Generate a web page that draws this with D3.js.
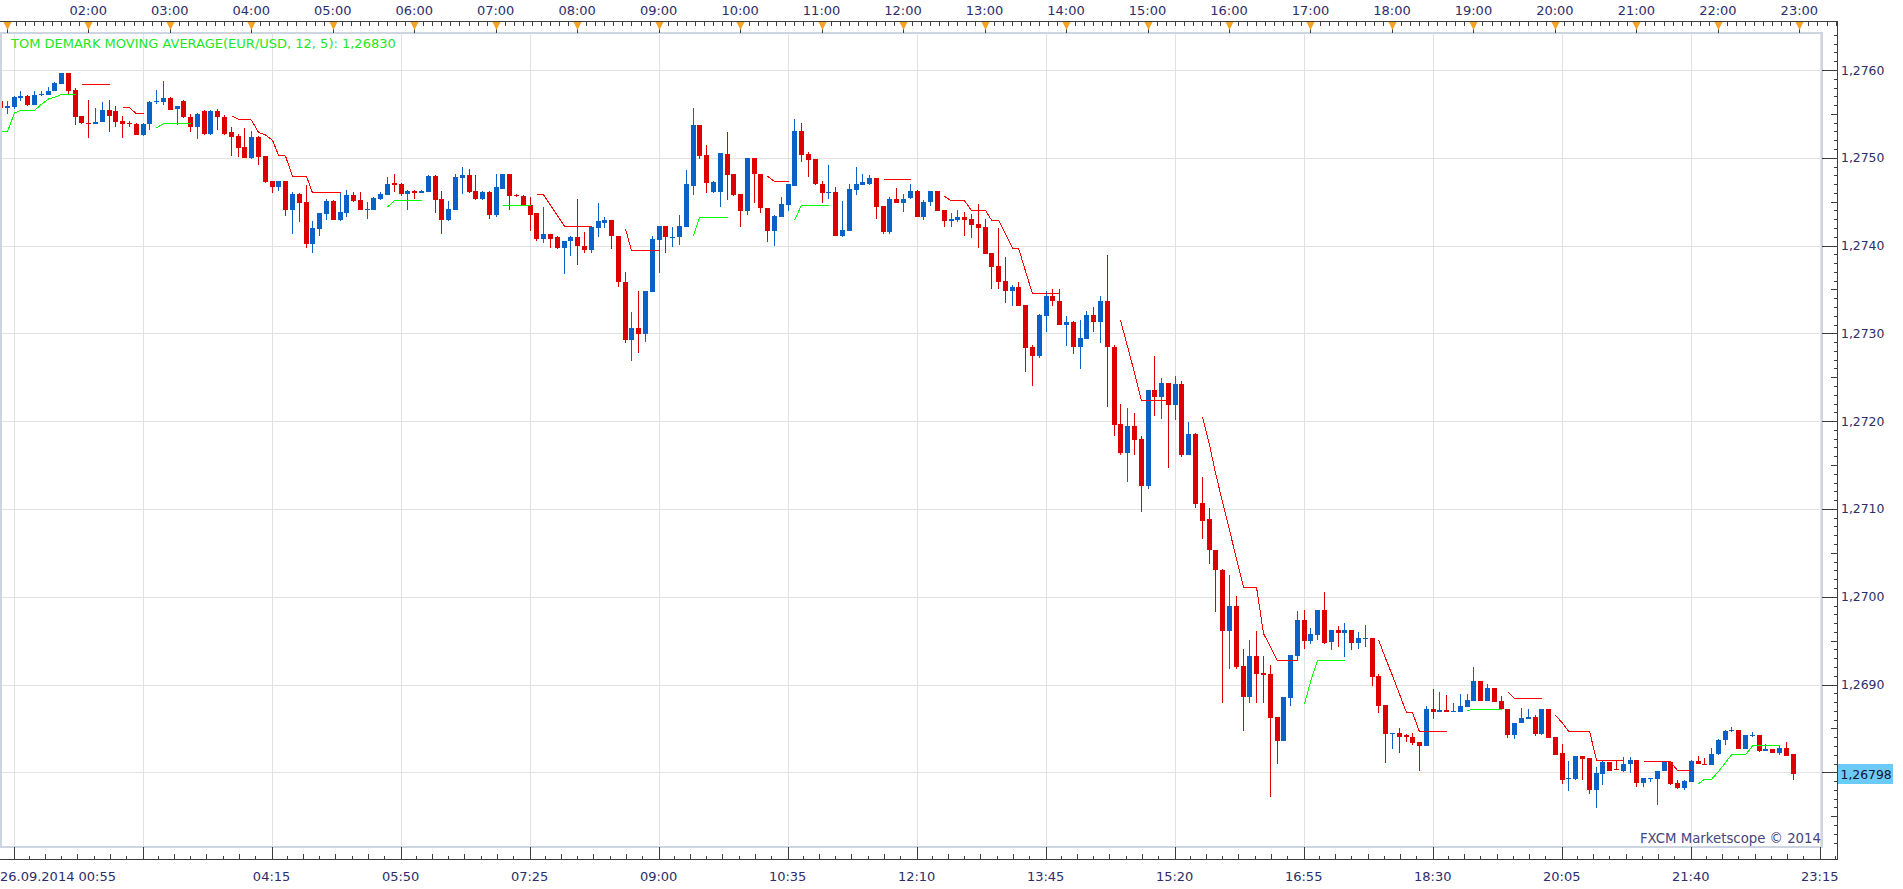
<!DOCTYPE html>
<html lang="en">
<head>
<meta charset="utf-8">
<script src="https://cdn.jsdelivr.net/npm/d3@7"></script>
<style>
html, body { margin: 0; padding: 0; background: #fff; overflow: hidden; }
svg { display: block; font-family: "DejaVu Sans", Verdana, sans-serif; }
</style>
</head>
<body>
<svg id="chart" width="1903" height="889"></svg>
<script>
// EUR/USD 5 minute candles, 26.09.2014, first candle 00:55
var startTime = new Date(2014, 8, 26, 0, 55);
var stepMinutes = 5;

var opens = [
1.27565,1.27557,1.27558,1.27568,1.27570,1.27560,1.27571,1.27572,1.27576,1.27584,
1.27597,1.27577,1.27548,1.27540,1.27538,1.27541,1.27554,1.27553,1.27542,1.27540,
1.27538,1.27526,1.27538,1.27563,1.27563,1.27568,1.27556,1.27565,1.27547,1.27535,
1.27553,1.27527,1.27553,1.27547,1.27529,1.27525,1.27512,1.27500,1.27524,1.27502,
1.27473,1.27467,1.27473,1.27440,1.27459,1.27450,1.27402,1.27419,1.27436,1.27451,
1.27429,1.27437,1.27458,1.27452,1.27440,1.27440,1.27453,1.27458,1.27471,1.27470,
1.27459,1.27462,1.27460,1.27461,1.27479,1.27453,1.27429,1.27440,1.27477,1.27480,
1.27462,1.27453,1.27461,1.27435,1.27465,1.27481,1.27458,1.27457,1.27446,1.27437,
1.27408,1.27413,1.27410,1.27397,1.27405,1.27410,1.27400,1.27395,1.27420,1.27426,
1.27429,1.27411,1.27359,1.27293,1.27306,1.27299,1.27347,1.27406,1.27422,1.27409,
1.27410,1.27421,1.27468,1.27537,1.27503,1.27461,1.27461,1.27504,1.27481,1.27459,
1.27439,1.27500,1.27482,1.27443,1.27417,1.27433,1.27446,1.27468,1.27531,1.27504,
1.27499,1.27470,1.27460,1.27461,1.27411,1.27417,1.27463,1.27469,1.27470,1.27477,
1.27445,1.27416,1.27453,1.27449,1.27454,1.27462,1.27433,1.27450,1.27462,1.27440,
1.27428,1.27429,1.27432,1.27430,1.27425,1.27421,1.27391,1.27377,1.27360,1.27348,
1.27353,1.27332,1.27284,1.27274,1.27320,1.27342,1.27337,1.27309,1.27313,1.27285,
1.27294,1.27321,1.27313,1.27337,1.27285,1.27197,1.27164,1.27195,1.27180,1.27126,
1.27235,1.27228,1.27243,1.27218,1.27242,1.27162,1.27185,1.27107,1.27088,1.27053,
1.27031,1.26961,1.26989,1.26921,1.26886,1.26932,1.26913,1.26912,1.26863,1.26836,
1.26885,1.26933,1.26973,1.26949,1.26956,1.26985,1.26948,1.26962,1.26959,1.26962,
1.26947,1.26952,1.26953,1.26910,1.26877,1.26844,1.26845,1.26842,1.26840,1.26834,
1.26830,1.26872,1.26869,1.26871,1.26869,1.26869,1.26874,1.26881,1.26904,1.26881,
1.26896,1.26881,1.26872,1.26842,1.26856,1.26861,1.26863,1.26844,1.26872,1.26840,
1.26822,1.26792,1.26792,1.26819,1.26816,1.26780,1.26798,1.26812,1.26804,1.26802,
1.26810,1.26814,1.26788,1.26792,1.26792,1.26802,1.26812,1.26788,1.26782,1.26789,
1.26813,1.26810,1.26808,1.26821,1.26837,1.26847,1.26848,1.26826,1.26842,1.26842,
1.26824,1.26827,1.26822,1.26828,1.26821
];
var highs = [
1.27567,1.27565,1.27570,1.27576,1.27571,1.27576,1.27576,1.27581,1.27586,1.27597,
1.27597,1.27579,1.27548,1.27566,1.27557,1.27563,1.27566,1.27559,1.27548,1.27542,
1.27540,1.27540,1.27565,1.27577,1.27587,1.27569,1.27559,1.27566,1.27550,1.27551,
1.27555,1.27555,1.27556,1.27549,1.27535,1.27527,1.27534,1.27530,1.27525,1.27502,
1.27474,1.27474,1.27474,1.27461,1.27460,1.27469,1.27428,1.27437,1.27453,1.27452,
1.27461,1.27463,1.27461,1.27461,1.27450,1.27455,1.27461,1.27478,1.27481,1.27471,
1.27463,1.27463,1.27463,1.27480,1.27480,1.27462,1.27451,1.27481,1.27490,1.27487,
1.27480,1.27462,1.27462,1.27482,1.27481,1.27481,1.27459,1.27458,1.27455,1.27437,
1.27444,1.27413,1.27411,1.27405,1.27411,1.27453,1.27415,1.27421,1.27448,1.27433,
1.27429,1.27411,1.27370,1.27324,1.27348,1.27348,1.27411,1.27422,1.27422,1.27421,
1.27435,1.27486,1.27557,1.27537,1.27515,1.27473,1.27506,1.27529,1.27481,1.27459,
1.27500,1.27500,1.27482,1.27443,1.27435,1.27455,1.27470,1.27544,1.27540,1.27507,
1.27499,1.27473,1.27492,1.27467,1.27451,1.27470,1.27489,1.27481,1.27480,1.27477,
1.27445,1.27455,1.27466,1.27459,1.27470,1.27463,1.27452,1.27462,1.27462,1.27440,
1.27437,1.27440,1.27438,1.27436,1.27447,1.27430,1.27391,1.27420,1.27387,1.27355,
1.27359,1.27332,1.27287,1.27322,1.27348,1.27350,1.27350,1.27320,1.27314,1.27315,
1.27326,1.27330,1.27342,1.27389,1.27287,1.27220,1.27215,1.27209,1.27183,1.27235,
1.27274,1.27249,1.27243,1.27252,1.27246,1.27199,1.27186,1.27136,1.27101,1.27053,
1.27032,1.27025,1.27001,1.26941,1.26951,1.26961,1.26932,1.26922,1.26863,1.26886,
1.26934,1.26984,1.26985,1.26964,1.26985,1.27005,1.26962,1.26967,1.26970,1.26962,
1.26960,1.26968,1.26953,1.26912,1.26877,1.26845,1.26850,1.26844,1.26845,1.26835,
1.26875,1.26895,1.26892,1.26888,1.26879,1.26889,1.26889,1.26920,1.26904,1.26901,
1.26896,1.26887,1.26872,1.26856,1.26873,1.26872,1.26865,1.26872,1.26872,1.26840,
1.26832,1.26813,1.26819,1.26819,1.26816,1.26806,1.26813,1.26812,1.26814,1.26817,
1.26817,1.26814,1.26793,1.26793,1.26802,1.26813,1.26812,1.26791,1.26791,1.26814,
1.26819,1.26816,1.26828,1.26838,1.26848,1.26852,1.26848,1.26842,1.26846,1.26842,
1.26832,1.26827,1.26830,1.26835,1.26821
];
var lows = [
1.27555,1.27550,1.27556,1.27565,1.27559,1.27560,1.27570,1.27572,1.27576,1.27584,
1.27573,1.27537,1.27539,1.27523,1.27538,1.27541,1.27529,1.27535,1.27523,1.27535,
1.27526,1.27525,1.27532,1.27561,1.27560,1.27555,1.27537,1.27545,1.27529,1.27521,
1.27526,1.27526,1.27532,1.27526,1.27502,1.27501,1.27500,1.27499,1.27492,1.27471,
1.27460,1.27462,1.27434,1.27413,1.27427,1.27397,1.27391,1.27411,1.27429,1.27429,
1.27428,1.27433,1.27450,1.27440,1.27430,1.27440,1.27452,1.27458,1.27461,1.27456,
1.27441,1.27453,1.27460,1.27461,1.27437,1.27413,1.27428,1.27440,1.27459,1.27460,
1.27452,1.27452,1.27430,1.27433,1.27465,1.27440,1.27455,1.27445,1.27417,1.27405,
1.27403,1.27397,1.27396,1.27368,1.27388,1.27378,1.27391,1.27391,1.27410,1.27420,
1.27396,1.27353,1.27289,1.27268,1.27278,1.27290,1.27347,1.27369,1.27392,1.27398,
1.27401,1.27421,1.27458,1.27499,1.27460,1.27460,1.27444,1.27452,1.27457,1.27421,
1.27435,1.27448,1.27437,1.27404,1.27400,1.27432,1.27439,1.27468,1.27495,1.27478,
1.27469,1.27448,1.27453,1.27411,1.27410,1.27417,1.27458,1.27469,1.27469,1.27430,
1.27413,1.27413,1.27448,1.27438,1.27453,1.27433,1.27429,1.27445,1.27439,1.27421,
1.27421,1.27427,1.27411,1.27409,1.27397,1.27390,1.27350,1.27350,1.27335,1.27331,
1.27331,1.27256,1.27240,1.27272,1.27301,1.27331,1.27309,1.27286,1.27276,1.27259,
1.27294,1.27302,1.27289,1.27216,1.27183,1.27161,1.27131,1.27162,1.27096,1.27123,
1.27206,1.27202,1.27147,1.27201,1.27159,1.27162,1.27101,1.27066,1.27037,1.26983,
1.26879,1.26918,1.26918,1.26847,1.26879,1.26879,1.26879,1.26772,1.26810,1.26836,
1.26875,1.26928,1.26941,1.26946,1.26951,1.26946,1.26939,1.26943,1.26931,1.26939,
1.26941,1.26943,1.26898,1.26868,1.26811,1.26826,1.26822,1.26835,1.26831,1.26801,
1.26830,1.26861,1.26869,1.26869,1.26869,1.26869,1.26874,1.26881,1.26881,1.26881,
1.26880,1.26872,1.26839,1.26838,1.26856,1.26861,1.26841,1.26842,1.26839,1.26820,
1.26787,1.26779,1.26791,1.26791,1.26775,1.26759,1.26786,1.26802,1.26803,1.26800,
1.26799,1.26783,1.26783,1.26789,1.26763,1.26802,1.26786,1.26781,1.26780,1.26789,
1.26809,1.26808,1.26808,1.26820,1.26831,1.26846,1.26826,1.26826,1.26840,1.26823,
1.26824,1.26822,1.26820,1.26818,1.26791
];
var closes = [
1.27557,1.27559,1.27569,1.27570,1.27560,1.27572,1.27573,1.27576,1.27585,1.27597,
1.27576,1.27547,1.27540,1.27538,1.27541,1.27554,1.27548,1.27541,1.27538,1.27538,
1.27526,1.27539,1.27563,1.27565,1.27568,1.27555,1.27559,1.27546,1.27535,1.27550,
1.27527,1.27553,1.27547,1.27527,1.27524,1.27511,1.27500,1.27524,1.27501,1.27472,
1.27467,1.27473,1.27440,1.27459,1.27449,1.27402,1.27420,1.27437,1.27451,1.27429,
1.27438,1.27458,1.27451,1.27440,1.27442,1.27454,1.27459,1.27470,1.27469,1.27459,
1.27462,1.27460,1.27462,1.27479,1.27452,1.27429,1.27442,1.27478,1.27480,1.27461,
1.27453,1.27461,1.27435,1.27467,1.27481,1.27457,1.27456,1.27446,1.27435,1.27408,
1.27413,1.27408,1.27397,1.27405,1.27410,1.27399,1.27395,1.27421,1.27428,1.27429,
1.27411,1.27358,1.27293,1.27306,1.27299,1.27348,1.27407,1.27422,1.27410,1.27410,
1.27422,1.27470,1.27537,1.27502,1.27471,1.27472,1.27505,1.27480,1.27458,1.27439,
1.27500,1.27482,1.27443,1.27417,1.27434,1.27447,1.27470,1.27531,1.27503,1.27498,
1.27470,1.27460,1.27461,1.27411,1.27418,1.27464,1.27470,1.27472,1.27477,1.27444,
1.27416,1.27453,1.27449,1.27453,1.27462,1.27433,1.27450,1.27462,1.27439,1.27428,
1.27430,1.27432,1.27429,1.27424,1.27420,1.27390,1.27376,1.27359,1.27348,1.27353,
1.27331,1.27283,1.27274,1.27321,1.27342,1.27337,1.27309,1.27313,1.27285,1.27295,
1.27321,1.27313,1.27337,1.27284,1.27196,1.27164,1.27195,1.27179,1.27126,1.27235,
1.27228,1.27243,1.27218,1.27242,1.27162,1.27185,1.27106,1.27086,1.27053,1.27030,
1.26961,1.26989,1.26920,1.26886,1.26932,1.26912,1.26911,1.26862,1.26836,1.26886,
1.26934,1.26973,1.26949,1.26958,1.26985,1.26947,1.26962,1.26959,1.26962,1.26947,
1.26953,1.26953,1.26909,1.26876,1.26844,1.26845,1.26840,1.26840,1.26833,1.26830,
1.26872,1.26869,1.26871,1.26869,1.26870,1.26875,1.26882,1.26904,1.26881,1.26896,
1.26880,1.26872,1.26842,1.26856,1.26862,1.26863,1.26844,1.26872,1.26839,1.26820,
1.26791,1.26794,1.26819,1.26815,1.26780,1.26799,1.26812,1.26802,1.26803,1.26810,
1.26814,1.26788,1.26793,1.26793,1.26802,1.26812,1.26787,1.26782,1.26790,1.26813,
1.26810,1.26808,1.26821,1.26837,1.26847,1.26848,1.26826,1.26842,1.26843,1.26824,
1.26826,1.26822,1.26828,1.26819,1.26798
];

// Tom Demark moving average: pieces with first candle index, direction, values
var tdSegments = [
  { start: 0,   dir: "up",   values: [1.27530,1.27530,1.27551,1.27554,1.27554,1.27554,1.27561,1.27567,1.27569,1.27572,1.27572,1.27572] },
  { start: 12,  dir: "down", values: [1.27583,1.27583,1.27583,1.27583,1.27583] },
  { start: 18,  dir: "down", values: [1.27557,1.27557,1.27550,1.27550] },
  { start: 23,  dir: "up",   values: [1.27534,1.27539,1.27539,1.27539,1.27539,1.27539] },
  { start: 34,  dir: "down", values: [1.27548,1.27544,1.27544,1.27543,1.27529,1.27526,1.27520,1.27503,1.27502,1.27479,1.27479,1.27479,1.27460,1.27460,1.27460,1.27460,1.27460] },
  { start: 57,  dir: "up",   values: [1.27444,1.27451,1.27451,1.27451,1.27451,1.27451] },
  { start: 74,  dir: "up",   values: [1.27446,1.27446,1.27446,1.27446,1.27446] },
  { start: 79,  dir: "down", values: [1.27458,1.27458,1.27446,1.27434,1.27422,1.27422,1.27422,1.27422,1.27422] },
  { start: 92,  dir: "down", values: [1.27419,1.27394,1.27394,1.27394,1.27394,1.27394] },
  { start: 102, dir: "up",   values: [1.27411,1.27432,1.27432,1.27432,1.27432,1.27432] },
  { start: 113, dir: "down", values: [1.27479,1.27473,1.27473,1.27473] },
  { start: 117, dir: "up",   values: [1.27429,1.27446,1.27446,1.27446,1.27446,1.27446] },
  { start: 130, dir: "down", values: [1.27475,1.27475,1.27475,1.27475,1.27475] },
  { start: 139, dir: "down", values: [1.27456,1.27451,1.27451,1.27451,1.27440,1.27440,1.27440,1.27429,1.27429,1.27413,1.27397,1.27397,1.27371,1.27345,1.27345,1.27345,1.27345,1.27345] },
  { start: 165, dir: "down", values: [1.27315,1.27285,1.27255,1.27223,1.27223,1.27223,1.27223,1.27223] },
  { start: 177, dir: "down", values: [1.27205,1.27173,1.27141,1.27108,1.27076,1.27043,1.27011,1.27011,1.27011,1.26958,1.26943,1.26927,1.26927,1.26927,1.26927] },
  { start: 192, dir: "up",   values: [1.26878,1.26903,1.26927,1.26927,1.26927,1.26927,1.26927] },
  { start: 203, dir: "down", values: [1.26951,1.26930,1.26910,1.26889,1.26868,1.26868,1.26846,1.26846,1.26846,1.26846,1.26846] },
  { start: 216, dir: "up",   values: [1.26870,1.26872,1.26872,1.26872,1.26872,1.26872] },
  { start: 222, dir: "down", values: [1.26892,1.26884,1.26884,1.26884,1.26884,1.26884] },
  { start: 229, dir: "down", values: [1.26865,1.26856,1.26847,1.26847,1.26847,1.26847,1.26814,1.26814,1.26814,1.26814,1.26814] },
  { start: 242, dir: "down", values: [1.26812,1.26812,1.26812,1.26812,1.26812,1.26802,1.26802,1.26802] },
  { start: 250, dir: "up",   values: [1.26787,1.26792,1.26792,1.26801,1.26811,1.26820,1.26820,1.26820,1.26830,1.26830,1.26830,1.26830,1.26830] }
];

var priceTicks = [1.2680, 1.2690, 1.2700, 1.2710, 1.2720, 1.2730, 1.2740, 1.2750, 1.2760];
var lastPrice = 1.26798;
var legendText = "TOM DEMARK MOVING AVERAGE(EUR/USD, 12, 5): 1,26830";
var watermark = "FXCM Marketscope \u00a9 2014";
var bottomFirstLabel = "26.09.2014 00:55";
var bottomStepMinutes = 95;

// ---- layout ----
var W = 1903, H = 889;
var plot = { left: 1, top: 33, right: 1822, bottom: 847 };
var axisX = 1837.5, topAxisY = 21.5, bottomAxisY = 859.5;
var textColor = "#2d2d6b", tickColor = "#3c3c3c", gridColor = "#e2e2e2";
var upColor = "#0a62c6", downColor = "#dc0000";

function timeAt(i) { return d3.timeMinute.offset(startTime, i * stepMinutes); }
var endTime = d3.timeMinute.offset(startTime, 268 * stepMinutes);

var x = d3.scaleTime().domain([startTime, endTime]).range([0, 268 * 6.79]);
var y = d3.scaleLinear().domain([1.2680, 1.2760]).range([772.3, 70.0]);

var svg = d3.select("#chart");
svg.append("rect").attr("width", W).attr("height", H).attr("fill", "#fff");

svg.append("clipPath").attr("id", "plotClip").append("rect")
  .attr("x", plot.left).attr("y", plot.top)
  .attr("width", plot.right - plot.left).attr("height", plot.bottom - plot.top);

var bottomMajors = d3.range(0, 15).map(function(k) {
  return d3.timeMinute.offset(startTime, 10 + k * bottomStepMinutes);
});

// grid
var grid = svg.append("g").attr("clip-path", "url(#plotClip)").attr("shape-rendering", "crispEdges");
grid.selectAll("line.h").data(priceTicks).join("line")
  .attr("x1", plot.left).attr("x2", plot.right)
  .attr("y1", function(d) { return Math.round(y(d)) + 0.5; })
  .attr("y2", function(d) { return Math.round(y(d)) + 0.5; })
  .attr("stroke", gridColor);
grid.selectAll("line.v").data(bottomMajors).join("line")
  .attr("y1", plot.top).attr("y2", plot.bottom)
  .attr("x1", function(d) { return Math.round(x(d)) + 0.5; })
  .attr("x2", function(d) { return Math.round(x(d)) + 0.5; })
  .attr("stroke", gridColor);

// candles
var candles = opens.map(function(o, i) {
  return { t: timeAt(i), o: o, h: highs[i], l: lows[i], c: closes[i] };
});
var cg = svg.append("g").attr("clip-path", "url(#plotClip)").attr("shape-rendering", "crispEdges");
var cs = cg.selectAll("g").data(candles).join("g");
cs.append("line")
  .attr("x1", function(d) { return Math.round(x(d.t)) + 0.5; })
  .attr("x2", function(d) { return Math.round(x(d.t)) + 0.5; })
  .attr("y1", function(d) { return y(d.h); })
  .attr("y2", function(d) { return y(d.l); })
  .attr("stroke", function(d) { return d.c >= d.o ? upColor : downColor; });
cs.append("rect")
  .attr("x", function(d) { return Math.round(x(d.t)) - 2; })
  .attr("width", 5)
  .attr("y", function(d) { return y(Math.max(d.o, d.c)); })
  .attr("height", function(d) { return Math.max(1, Math.abs(y(d.o) - y(d.c))); })
  .attr("fill", function(d) { return d.c >= d.o ? upColor : downColor; });

// TD moving average
var tdLine = d3.line()
  .x(function(d) { return Math.round(x(d.t)) + 0.5; })
  .y(function(d) { return y(d.v); });
var tg = svg.append("g").attr("clip-path", "url(#plotClip)");
tg.selectAll("path").data(tdSegments).join("path")
  .attr("d", function(s) {
    return tdLine(s.values.map(function(v, k) { return { t: timeAt(s.start + k), v: v }; }));
  })
  .attr("fill", "none")
  .attr("stroke", function(s) { return s.dir === "up" ? "#00ff00" : "#ff0000"; })
  .attr("stroke-width", 1)
  .attr("shape-rendering", "crispEdges");

// legend + watermark
svg.append("text").attr("x", 11).attr("y", 48)
  .attr("font-size", 13).attr("fill", "#22e622").text(legendText);
svg.append("text").attr("x", 1821).attr("y", 843).attr("text-anchor", "end")
  .attr("font-size", 13.3).attr("fill", "#45457e").text(watermark);

// frame
svg.append("rect")
  .attr("x", plot.left).attr("y", plot.top)
  .attr("width", plot.right - plot.left).attr("height", plot.bottom - plot.top)
  .attr("fill", "none").attr("stroke", "#cdd5e0").attr("stroke-width", 2);

// axes lines
var ax = svg.append("g").attr("shape-rendering", "crispEdges").attr("stroke", tickColor);
ax.append("line").attr("x1", 0).attr("x2", axisX).attr("y1", topAxisY).attr("y2", topAxisY);
ax.append("line").attr("x1", 0).attr("x2", axisX).attr("y1", bottomAxisY).attr("y2", bottomAxisY);
ax.append("line").attr("x1", axisX).attr("x2", axisX).attr("y1", topAxisY).attr("y2", bottomAxisY);

// top axis: hours with orange markers
var hours = d3.timeHour.range(d3.timeHour.ceil(startTime), endTime);
var topMinorTimes = [];
hours.forEach(function(h) {
  for (var k = 1; k < 9; k++) topMinorTimes.push(new Date(h.getTime() + k * 60 * 60000 / 9));
  topMinorTimes.push(new Date(h.getTime() - 60 * 60000 / 9));
});
ax.selectAll("line.tm").data(topMinorTimes.filter(function(d) { return x(d) > 0 && x(d) < axisX; })).join("line")
  .attr("x1", function(d) { return Math.round(x(d)) + 0.5; })
  .attr("x2", function(d) { return Math.round(x(d)) + 0.5; })
  .attr("y1", topAxisY).attr("y2", topAxisY + 4);
ax.selectAll("line.th").data(hours).join("line")
  .attr("x1", function(d) { return Math.round(x(d)) + 0.5; })
  .attr("x2", function(d) { return Math.round(x(d)) + 0.5; })
  .attr("y1", topAxisY).attr("y2", plot.top);
svg.append("g").selectAll("path").data(hours).join("path")
  .attr("d", function(d) {
    var cx = Math.round(x(d)) + 0.5;
    return "M" + (cx - 4) + "," + (topAxisY + 0.5) + "L" + (cx + 4) + "," + (topAxisY + 0.5) + "L" + cx + "," + (topAxisY + 8.5) + "Z";
  })
  .attr("fill", "#f6a323");
svg.append("g").selectAll("text").data(hours.filter(function(d) { return x(d) > 40; })).join("text")
  .attr("x", function(d) { return x(d); }).attr("y", 15)
  .attr("text-anchor", "middle").attr("font-size", 13).attr("fill", textColor)
  .text(d3.timeFormat("%H:%M"));

// bottom axis
var bottomMinor = [];
d3.range(-1, 15).forEach(function(k) {
  for (var j = 1; j < 8; j++) {
    bottomMinor.push({ t: d3.timeMinute.offset(startTime, 10 + k * bottomStepMinutes + j * bottomStepMinutes / 8), tall: j % 2 === 0 });
  }
});
ax.selectAll("line.bm").data(bottomMinor.filter(function(d) { return x(d.t) > 0 && x(d.t) < axisX; })).join("line")
  .attr("x1", function(d) { return Math.round(x(d.t)) + 0.5; })
  .attr("x2", function(d) { return Math.round(x(d.t)) + 0.5; })
  .attr("y1", function(d) { return d.tall ? bottomAxisY - 6 : bottomAxisY - 3.5; })
  .attr("y2", bottomAxisY);
ax.selectAll("line.bM").data(bottomMajors).join("line")
  .attr("x1", function(d) { return Math.round(x(d)) + 0.5; })
  .attr("x2", function(d) { return Math.round(x(d)) + 0.5; })
  .attr("y1", plot.bottom).attr("y2", bottomAxisY);
svg.append("g").selectAll("text").data(bottomMajors.slice(2)).join("text")
  .attr("x", function(d) { return x(d); }).attr("y", 881)
  .attr("text-anchor", "middle").attr("font-size", 13).attr("fill", textColor)
  .text(d3.timeFormat("%H:%M"));
svg.append("text").attr("x", 0).attr("y", 881).attr("font-size", 13)
  .attr("fill", textColor).text(bottomFirstLabel);

// right axis
var pipTicks = d3.range(0, 94).map(function(k) { return Math.round((1.2672 + k * 0.0001) * 10000) / 10000; })
  .filter(function(p) { return y(p) > plot.top && y(p) < plot.bottom; });
ax.selectAll("line.r").data(pipTicks).join("line")
  .attr("y1", function(d) { return Math.round(y(d)) + 0.5; })
  .attr("y2", function(d) { return Math.round(y(d)) + 0.5; })
  .attr("x1", function(d) {
    var k = Math.round(d * 10000);
    return k % 10 === 0 ? plot.right : (k % 5 === 0 ? axisX - 7 : axisX - 4);
  })
  .attr("x2", axisX);
var fmtPrice = function(p, n) { return p.toFixed(n).replace(".", ","); };
svg.append("g").selectAll("text").data(priceTicks.filter(function(p) { return p > 1.2685; })).join("text")
  .attr("x", 1841).attr("y", function(d) { return y(d) + 4.5; })
  .attr("font-size", 12.4).attr("fill", textColor)
  .text(function(d) { return fmtPrice(d, 4); });

// last price marker
svg.append("rect").attr("x", 1838).attr("y", Math.round(y(lastPrice)) - 10)
  .attr("width", 55).attr("height", 20).attr("fill", "#6ccbf6");
svg.append("text").attr("x", 1840.5).attr("y", Math.round(y(lastPrice)) + 4.5)
  .attr("font-size", 12.4).attr("fill", "#141432").text(fmtPrice(lastPrice, 5));
</script>
</body>
</html>
